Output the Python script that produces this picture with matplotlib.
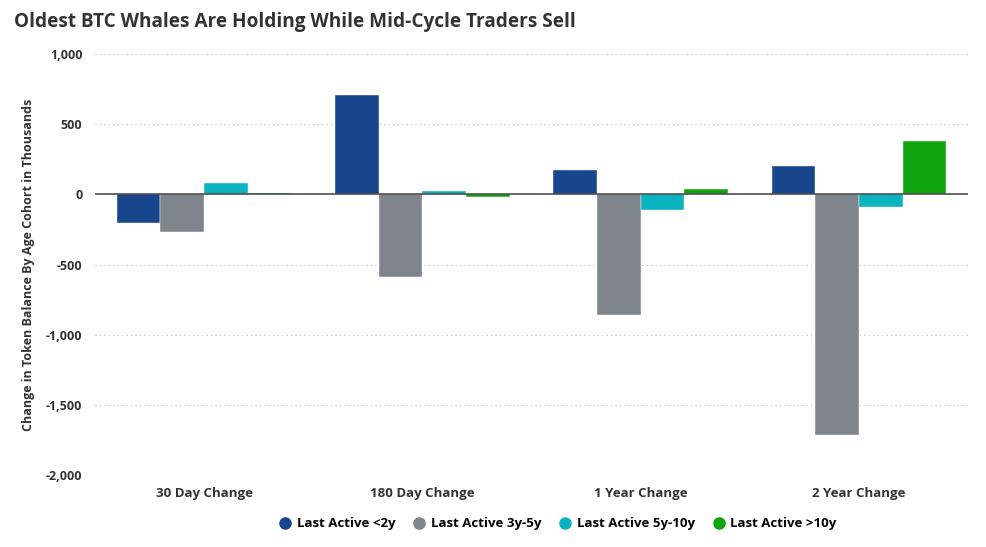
import matplotlib.pyplot as plt
import numpy as np

# data (thousands of BTC)
categories = ['30 Day Change', '180 Day Change', '1 Year Change', '2 Year Change']
series_names = ['Last Active <2y', 'Last Active 3y-5y', 'Last Active 5y-10y', 'Last Active >10y']
lt_2y = [-204, 705, 172, 204]
y3_5y = [-270, -592, -862, -1717]
y5_10y = [78, 21, -114, -93]
gt_10y = [12, -21, 38, 383]
y_ticks = [1000, 500, 0, -500, -1000, -1500, -2000]
colors = ['#17468c', '#7e858c', '#0bb3c1', '#10a310']

plt.rcParams['font.family'] = ['Open Sans', 'DejaVu Sans']

fig = plt.figure(figsize=(9.86, 5.47), dpi=100)
ax = fig.add_axes([95 / 986, 72 / 547, 873 / 986, 421 / 547])

x = np.arange(len(categories))
width = 0.2
for i, (vals, name, c) in enumerate(zip([lt_2y, y3_5y, y5_10y, gt_10y], series_names, colors)):
    ax.bar(x + (i - 1.5) * width, vals, width, color=c, edgecolor='white',
           linewidth=0.3, label=name, zorder=3)

ax.set_xlim(-0.5, len(categories) - 0.5)
ax.set_ylim(-2000, 1000)
ax.set_yticks(y_ticks)
ax.set_yticklabels([f'{v:,}' for v in y_ticks], fontsize=9, fontweight='bold', color='#333333')
ax.set_xticks(x)
ax.set_xticklabels(categories, fontsize=9.5, fontweight='bold', color='#333333')
ax.tick_params(axis='y', length=0, pad=9)
ax.tick_params(axis='x', length=0, pad=9)

ax.grid(axis='y', linestyle=(0, (1, 3)), color='#bbbbbb', linewidth=0.8, zorder=0)
ax.axhline(0, color='#444444', linewidth=1.1, zorder=4)
for s in ax.spines.values():
    s.set_visible(False)

ax.set_ylabel('Change in Token Balance By Age Cohort in Thousands', fontsize=9,
              fontweight='bold', color='#333333', labelpad=8)

fig.text(14 / 986, 1 - 22 / 547, 'Oldest BTC Whales Are Holding While Mid-Cycle Traders Sell',
         fontsize=13.7, fontweight='bold', color='#333333', va='center')

handles = [plt.Line2D([], [], marker='o', linestyle='', markersize=8, color=c) for c in colors]
fig.legend(handles, series_names, loc='center', bbox_to_anchor=(0.562, 1 - 524 / 547),
           ncol=4, frameon=False, handletextpad=-0.1, columnspacing=0.8,
           prop={'weight': 'bold', 'size': 9.5})

fig.savefig('out.png', dpi=100)
